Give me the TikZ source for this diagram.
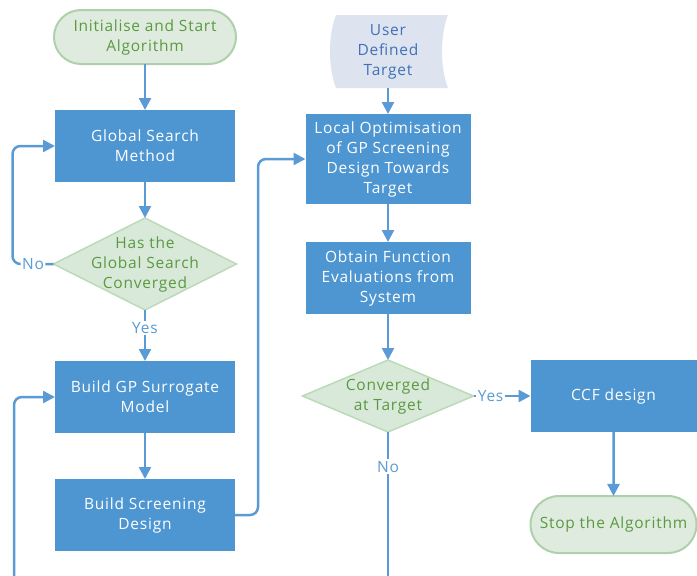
\documentclass[tikz,border=0pt]{standalone}
\usepackage{fontspec}
\setmainfont{Open Sans}[LetterSpace=5.0]
\usetikzlibrary{arrows.meta,shapes.geometric,shapes.misc,positioning,backgrounds,calc}
\definecolor{boxblue}{HTML}{4E96D1}
\definecolor{lineblue}{HTML}{5B9BD5}
\definecolor{termgreen}{HTML}{5A9A40}
\definecolor{termfill}{HTML}{DFEBDE}
\definecolor{termedge}{HTML}{ADD1AA}
\definecolor{decfill}{HTML}{D8E8D9}
\definecolor{decedge}{HTML}{BBDAB8}
\definecolor{targetfill}{HTML}{DDE3EF}
\definecolor{targettext}{HTML}{3F72B8}
\tikzstyle{every node}=[outer sep=0pt]
\tikzstyle{process}=[rectangle, fill=boxblue, text=white, minimum width=180pt, minimum height=72pt, align=center, inner sep=2pt]
\tikzstyle{terminal}=[rounded rectangle, fill=termfill, draw=termedge, line width=2pt, text=termgreen, align=center, inner sep=2pt]
\tikzstyle{decision}=[diamond, fill=decfill, draw=decedge, line width=1.5pt, inner sep=0pt]
\tikzstyle{decision text}=[text=termgreen, align=center]
\tikzstyle{answer}=[fill=white, text=lineblue, inner sep=1.5pt]

\begin{document}
\begin{tikzpicture}[->, >={Triangle[length=12pt,width=12pt]}, line width=2.5pt, draw=lineblue, font=\fontsize{15.5}{20}\selectfont]
  \useasboundingbox (0,0) rectangle (697pt,-576pt);

  \node[terminal, minimum width=186pt, minimum height=54pt] (start) at (145pt,-37pt) {Initialise and Start\\Algorithm};
  \node[process, below = 46pt of start] (globalSearch) {Global Search\\Method};
  \node[decision, minimum width=183pt, minimum height=92pt, below = 36pt of globalSearch,
        label={[decision text]center:Has the\\Global Search\\Converged}] (hasConv) {};
  \node[process, below = 51pt of hasConv] (buildGP) {Build GP Surrogate\\Model};
  \node[process, below = 46pt of buildGP] (buildScreen) {Build Screening\\Design};

  \node[rectangle, minimum width=104pt, minimum height=73pt, text=targettext, align=center] (target) at (388pt,-51.5pt) {User\\Defined\\Target};
  \node[process, minimum width=165pt, minimum height=90pt, below = 26pt of target] (localOpt) {Local Optimisation\\of GP Screening\\Design Towards\\Target};
  \node[process, minimum width=165pt, below = 38pt of localOpt] (obtainEval) {Obtain Function\\Evaluations from\\System};
  \node[decision, minimum width=171pt, minimum height=72pt, below = 46pt of obtainEval,
        label={[decision text]center:Converged\\at Target}] (convTarget) {};
  \node[process, minimum width=166pt, right = 57pt of convTarget] (ccf) {CCF design};
  \node[terminal, minimum width=170pt, minimum height=57pt, below = 64pt of ccf] (stopAlg) {Stop the Algorithm};

  \coordinate (loopStart) at (14pt,-576pt);
  \coordinate (noEnd) at (388pt,-576pt);

  \begin{scope}[on background layer]
    \fill[targetfill] (target.north west) .. controls +(-8pt,-20pt) and +(-8pt,20pt) .. (target.south west)
      -- ($(target.south east)+(8pt,0)$) .. controls +(-8pt,20pt) and +(-8pt,-20pt) .. ($(target.north east)+(8pt,0)$) -- cycle;
  \end{scope}

  \draw (start) -- (globalSearch);
  \draw (globalSearch) -- (hasConv);
  \draw[rounded corners=8pt] (hasConv.west) -- node[answer] {No} ++(-41pt,0) |- (globalSearch.west);
  \draw (hasConv) -- node[answer, pos=0.35] {Yes} (buildGP);
  \draw (buildGP) -- (buildScreen);
  \draw[rounded corners=8pt] (buildScreen.east) -- ++(23pt,0) |- (localOpt.west);
  \draw[rounded corners=8pt] (loopStart) |- (buildGP.west);

  \draw (target) -- (localOpt);
  \draw (localOpt) -- (obtainEval);
  \draw (obtainEval) -- (convTarget);
  \draw (convTarget) -- node[answer, pos=0.3] {Yes} (ccf);
  \draw[-] (convTarget) -- node[answer, pos=0.24] {No} (noEnd);
  \draw (ccf) -- (stopAlg);
\end{tikzpicture}
\end{document}
